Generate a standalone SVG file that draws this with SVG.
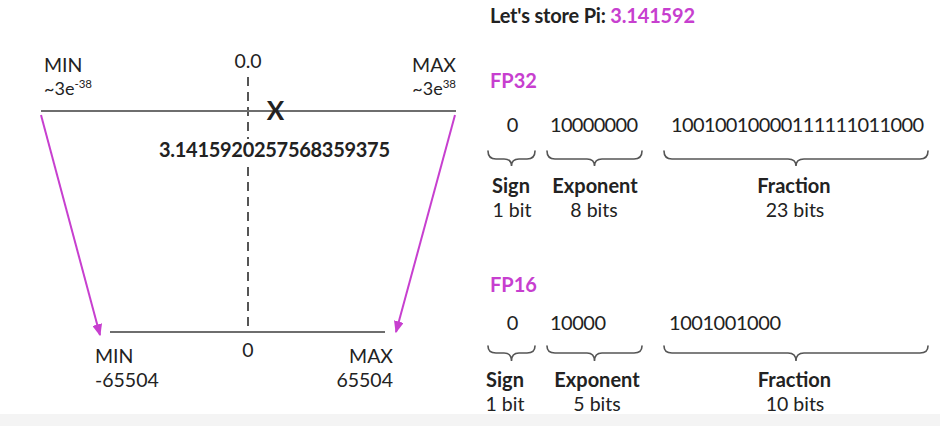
<svg xmlns="http://www.w3.org/2000/svg" width="940" height="426" viewBox="0 0 940 426">
<defs>
<style>
text{font-family:Lato,"Noto Sans","Liberation Sans",sans-serif;fill:#222;}
.lbl{font-size:19.5px;}
.b{font-weight:bold;font-size:20px;}
.bits{font-size:20px;}
.mag{fill:#c73fcf;}
.axis{stroke:#6e6e6e;stroke-width:2.2;fill:none;}
.dash{stroke:#555;stroke-width:2;stroke-dasharray:9 6;fill:none;}
.arrow{stroke:#c73fcf;stroke-width:2;fill:none;}
.brace{stroke:#555;stroke-width:1.6;fill:none;stroke-linecap:round;}
.mid{text-anchor:middle;}
.end{text-anchor:end;}
.sup{font-size:11.5px;}
.tilde{font-size:18px;}
.xmark{font-size:26px;font-weight:bold;}
</style>
<marker id="ah" viewBox="0 0 10 10" refX="9" refY="5" markerWidth="12" markerHeight="10" orient="auto" markerUnits="userSpaceOnUse" preserveAspectRatio="none">
<path d="M0,0 L10,5 L0,10 z" fill="#c73fcf"/>
</marker>
</defs>
<rect x="0" y="0" width="940" height="426" fill="#fff"/>
<rect x="0" y="414" width="940" height="12" fill="#f4f4f4"/>

<g id="connectors">
<line class="dash" x1="248" y1="77" x2="248" y2="333"/>
<line class="arrow" x1="41" y1="115" x2="100" y2="335" marker-end="url(#ah)"/>
<line class="arrow" x1="455" y1="115" x2="396" y2="332" marker-end="url(#ah)"/>
</g>

<g id="fp32-axis">
<line class="axis" x1="41" y1="111" x2="456" y2="111"/>
<text class="lbl" x="44" y="72">MIN</text>
<text class="tilde" x="44" y="95">~3e<tspan class="sup" dy="-7">-38</tspan></text>
<text class="lbl end" x="456" y="72">MAX</text>
<text class="tilde end" x="456" y="95">~3e<tspan class="sup" dy="-7">38</tspan></text>
<text class="lbl mid" x="248" y="68">0.0</text>
<text class="xmark mid" x="275.5" y="120">X</text>
<rect x="157" y="139" width="236" height="23" fill="#fff"/>
<text class="mid b" x="274.5" y="157" textLength="231">3.1415920257568359375</text>
</g>

<g id="fp16-axis">
<line class="axis" x1="110" y1="332" x2="385" y2="332"/>
<text class="lbl mid" x="248" y="357">0</text>
<text class="lbl" x="95" y="363">MIN</text>
<text class="lbl" x="95" y="387">-65504</text>
<text class="lbl end" x="393" y="363">MAX</text>
<text class="lbl end" x="393" y="387">65504</text>
</g>

<g id="title">
<text class="b" x="490" y="23" textLength="205">Let's store Pi: <tspan class="mag">3.141592</tspan></text>
</g>

<g id="fp32">
<text class="b mag" x="490" y="88">FP32</text>
<text class="bits mid" x="512.5" y="132">0</text>
<text class="bits" x="550" y="132" textLength="88">10000000</text>
<text class="bits" x="671" y="132" textLength="253">10010010000111111011000</text>
<path class="brace" d="M488,151 Q488,159 496,159 L504,159 Q511.5,159 511.5,166 Q511.5,159 519,159 L527,159 Q535,159 535,151"/>
<path class="brace" d="M547,151 Q547,159 555,159 L587,159 Q594.5,159 594.5,166 Q594.5,159 602,159 L634,159 Q642,159 642,151"/>
<path class="brace" d="M664,151 Q664,159 672,159 L788,159 Q796,159 796,166 Q796,159 804,159 L920,159 Q928,159 928,151"/>
<text class="b mid" x="511" y="193">Sign</text>
<text class="b mid" x="595" y="193">Exponent</text>
<text class="b mid" x="794" y="193">Fraction</text>
<text class="lbl mid" x="512" y="216.5">1 bit</text>
<text class="lbl mid" x="594" y="216.5">8 bits</text>
<text class="lbl mid" x="795" y="216.5">23 bits</text>
</g>

<g id="fp16">
<text class="b mag" x="490" y="291.5">FP16</text>
<text class="bits mid" x="512.5" y="330">0</text>
<text class="bits" x="550" y="330" textLength="56">10000</text>
<text class="bits" x="669" y="330" textLength="112">1001001000</text>
<path class="brace" d="M488,346 Q488,353 496,353 L504,353 Q511.5,353 511.5,361 Q511.5,353 519,353 L527,353 Q535,353 535,346"/>
<path class="brace" d="M547,346 Q547,353 555,353 L587,353 Q594.5,353 594.5,361 Q594.5,353 602,353 L634,353 Q642,353 642,346"/>
<path class="brace" d="M664,346 Q664,353 672,353 L788,353 Q796,353 796,361 Q796,353 804,353 L920,353 Q928,353 928,346"/>
<text class="b mid" x="505" y="387">Sign</text>
<text class="b mid" x="597" y="387">Exponent</text>
<text class="b mid" x="794.5" y="387">Fraction</text>
<text class="lbl mid" x="505" y="410.5">1 bit</text>
<text class="lbl mid" x="597" y="410.5">5 bits</text>
<text class="lbl mid" x="795" y="410.5">10 bits</text>
</g>
</svg>
